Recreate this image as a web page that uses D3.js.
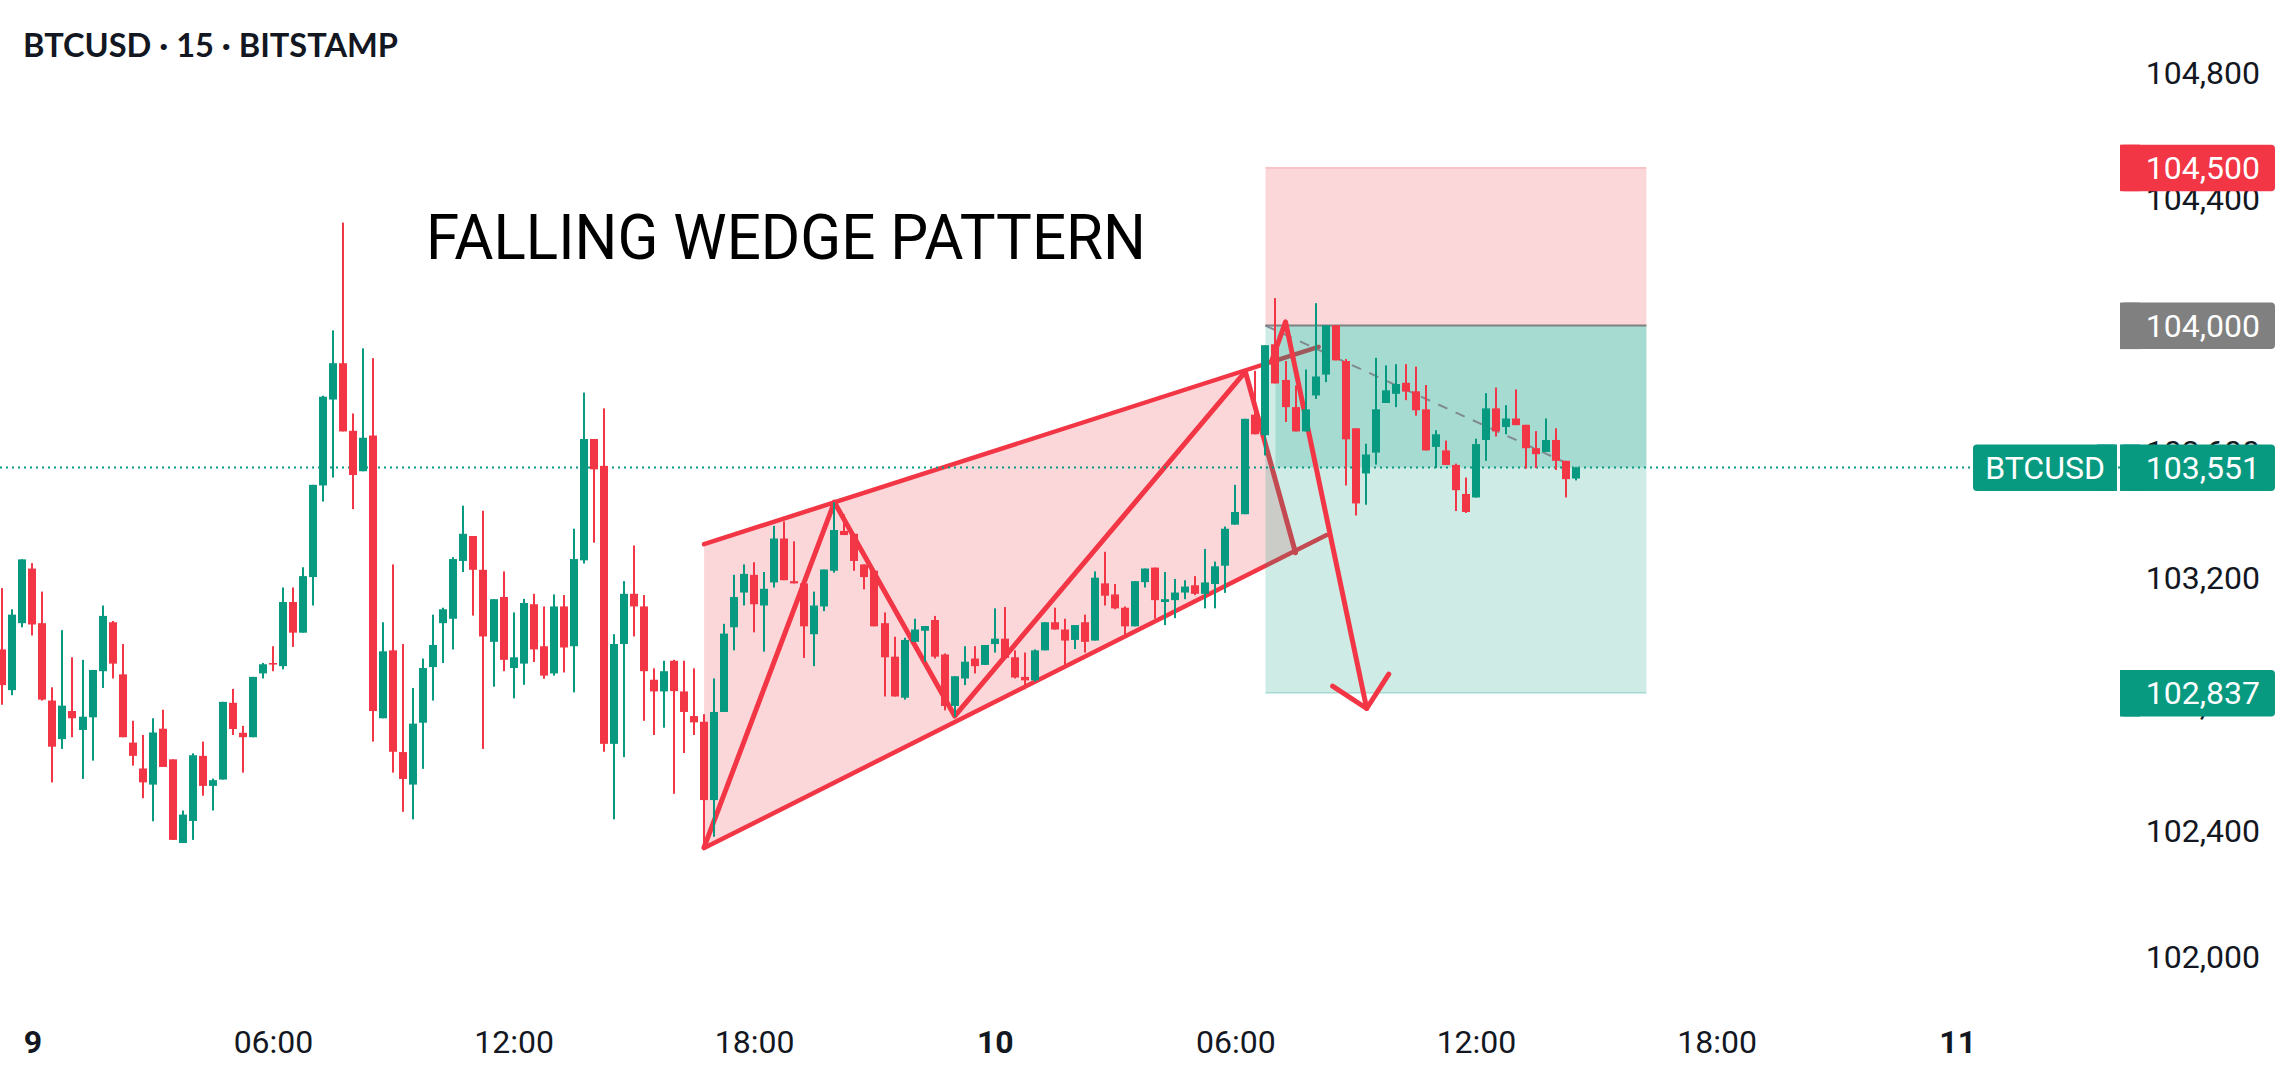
<!DOCTYPE html>
<html>
<head>
<meta charset="utf-8">
<script src="https://cdn.jsdelivr.net/npm/d3@7"></script>
<style>
  html, body { margin: 0; padding: 0; background: #fff; }
  svg { display: block; }
</style>
</head>
<body>
<svg id="chart"></svg>
<script>
// BTCUSD 15m candles, first bar 8th 23:15 UTC
const startTime = Date.UTC(2025, 5, 8, 23, 15);

const opens = [
  102975,102846,103058,103231,103058,102813,102691,102780,102720,102760,
  102906,103061,102896,102680,102598,102547,102724,102627,102362,102432,
  102638,102543,102563,102806,102711,102697,102899,102932,102922,103125,
  103028,103204,103494,103766,103881,103667,103539,103652,102757,102972,
  102650,102547,102743,102919,103058,103072,103255,103334,103227,102999,
  103141,102916,102930,103118,102985,102899,103111,102985,103257,103641,
  103556,102676,102992,103151,103111,102879,102842,102939,102842,102764,
  102746,102498,102777,103045,103155,103211,103114,103187,103326,103191,
  103184,103023,103111,103224,103350,103341,103244,103224,103058,102952,
  102822,102999,103034,103068,102959,102796,102883,102946,102926,102992,
  103009,102950,102888,102877,102972,103061,103038,103005,103061,103003,
  103184,103149,103107,103048,103188,103234,103125,103131,103155,103178,
  103151,103182,103240,103370,103403,103718,103653,103941,103828,103742,
  103665,103779,103845,104001,103888,103675,103532,103598,103755,103784,
  103819,103792,103735,103616,103605,103559,103467,103456,103638,103738,
  103679,103706,103686,103612,103600,103638,103572,103516
];
const highs = [
  103169,103102,103260,103248,103158,102855,103036,102950,102942,102910,
  103114,103065,102992,102749,102704,102757,102784,102627,102465,102646,
  102683,102566,102809,102850,102733,102888,102932,102985,103171,103171,
  103235,103496,103778,103985,104326,103722,103928,103897,103061,103244,
  102992,102853,102946,103085,103107,103267,103430,103334,103414,103134,
  103222,103092,103135,103151,103111,103149,103147,103357,103788,103641,
  103738,103023,103191,103304,103147,102915,102939,102942,102939,102915,
  102770,102883,103056,103211,103244,103251,103220,103366,103380,103317,
  103184,103158,103228,103441,103403,103341,103244,103227,103092,103015,
  103012,103072,103049,103081,102962,102890,102985,102985,102989,103105,
  103109,102972,102965,102975,103061,103107,103072,103052,103085,103222,
  103284,103182,103111,103191,103231,103234,103220,103198,103194,103207,
  103293,103253,103364,103496,103705,103857,103938,104087,103888,103811,
  103861,104071,104001,104001,103894,103675,103626,103898,103874,103878,
  103878,103870,103812,103669,103636,103563,103519,103642,103786,103804,
  103748,103798,103686,103666,103706,103675,103572,103553
];
const lows = [
  102800,102830,103045,103019,102813,102554,102660,102697,102565,102623,
  102853,102883,102697,102607,102504,102431,102603,102372,102362,102372,
  102512,102465,102563,102704,102585,102697,102883,102906,102912,102983,
  103028,103114,103443,103519,103665,103419,103539,102683,102757,102585,
  102461,102437,102597,102813,102932,102975,103220,103082,102660,102857,
  102906,102820,102863,102935,102882,102892,102902,102839,103247,103313,
  102651,102437,102634,103016,102749,102704,102727,102518,102647,102704,
  102348,102382,102777,102972,103114,103029,102968,103171,103194,103184,
  102948,102922,103096,103218,103337,103224,103165,103048,102826,102826,
  102816,102999,102936,102946,102782,102762,102862,102899,102926,102965,
  102946,102883,102849,102873,102972,103038,102926,102976,102965,103003,
  103114,103102,103012,103048,103171,103072,103052,103074,103134,103147,
  103105,103105,103154,103370,103403,103656,103589,103817,103695,103665,
  103665,103768,103821,103890,103494,103399,103433,103560,103755,103742,
  103764,103715,103605,103549,103559,103413,103407,103456,103572,103649,
  103656,103685,103547,103549,103600,103543,103456,103510
];
const closes = [
  102862,103085,103260,103054,102816,102667,102797,102757,102762,102910,
  103081,102930,102697,102638,102554,102712,102603,102372,102452,102640,
  102543,102561,102809,102723,102697,102888,102928,102927,103125,103028,
  103207,103496,103775,103881,103665,103527,103645,102780,102969,102651,
  102565,102740,102916,102989,103102,103261,103341,103227,103016,103134,
  102942,102950,103122,102975,102892,103111,102981,103261,103641,103545,
  102676,102992,103151,103111,102906,102842,102906,102843,102777,102744,
  102498,102777,103025,103141,103214,103118,103167,103326,103194,103184,
  103048,103114,103228,103353,103337,103255,103204,103048,102950,102826,
  103005,103038,103049,102952,102796,102890,102936,102922,102989,103009,
  102948,102886,102877,102972,103061,103038,103003,103052,102999,103202,
  103145,103105,103048,103191,103231,103131,103134,103155,103174,103151,
  103187,103238,103357,103410,103705,103656,103938,103817,103742,103665,
  103735,103839,104001,103890,103640,103437,103592,103735,103795,103815,
  103791,103732,103605,103656,103559,103479,103410,103625,103738,103665,
  103706,103685,103612,103593,103638,103572,103514,103551
];

const priceTicks = [102000, 102400, 102800, 103200, 103600, 104000, 104400, 104800];
const timeTicks = d3.utcHour.every(6).range(new Date(Date.UTC(2025, 5, 9)), new Date(Date.UTC(2025, 5, 11, 0, 1)));

// drawings, as [bar index, price]
const wedgeUpper = [[70, 103308], [131.3, 103933]];
const wedgeLower = [[70, 102346], [132.1, 103337]];
const wedgeArea = [[70, 103308], [124, 103854], [129, 103281], [70, 102346]];
const wedgeZigzag = [[70, 102348], [83, 103441], [95, 102764], [124, 103854], [129, 103281]];
const arrowLine = [[126.6, 103886], [128, 104012], [136.1, 102788]];
const arrowHead = [[132.7, 102859], [136.1, 102788], [138.3, 102897]];

// short position tool
const entryPrice = 104000, stopPrice = 104500, targetPrice = 102837, lastPrice = 103551;
const entryBar = 126, boxEndBar = 164, lastBar = 157;

const titleText = "BTCUSD · 15 · BITSTAMP";
const noteText = "FALLING WEDGE PATTERN";
const symbol = "BTCUSD";

const W = 2288, H = 1078;
const green = "#089981", red = "#f23645";

const svg = d3.select("#chart").attr("width", W).attr("height", H);
svg.append("rect").attr("width", W).attr("height", H).attr("fill", "#fff");

const tAt = i => new Date(startTime + i * 15 * 60 * 1000);
const x = d3.scaleUtc()
  .domain([tAt(0), tAt(opens.length - 1)])
  .range([2.3, 2.3 + 10.025 * (opens.length - 1)]);
const xi = i => x(tAt(i));
const y = d3.scaleLinear().domain([102000, 104800]).range([957.4, 72.9]);

const line = d3.line().x(d => xi(d[0])).y(d => y(d[1]));

// wedge
const wedge = svg.append("g");
wedge.append("path").attr("d", line(wedgeArea) + "Z")
  .attr("fill", "rgba(242,54,69,0.2)");
[wedgeUpper, wedgeLower].forEach(seg => {
  wedge.append("path").attr("d", line(seg))
    .attr("fill", "none").attr("stroke", red).attr("stroke-width", 4.5)
    .attr("stroke-linecap", "round");
});
wedge.append("path").attr("d", line(wedgeZigzag))
  .attr("fill", "none").attr("stroke", red).attr("stroke-width", 5)
  .attr("stroke-linejoin", "round").attr("stroke-linecap", "round");

// position box
const bx0 = xi(entryBar), bx1 = xi(boxEndBar);
const pos = svg.append("g");
pos.append("rect").attr("x", bx0).attr("width", bx1 - bx0)
  .attr("y", y(stopPrice)).attr("height", y(entryPrice) - y(stopPrice))
  .attr("fill", "rgba(242,54,69,0.2)");
pos.append("rect").attr("x", bx0).attr("width", bx1 - bx0)
  .attr("y", y(entryPrice)).attr("height", y(targetPrice) - y(entryPrice))
  .attr("fill", "rgba(8,153,129,0.2)");
pos.append("rect").attr("x", xi(entryBar + 1)).attr("width", bx1 - xi(entryBar + 1))
  .attr("y", y(entryPrice)).attr("height", y(lastPrice) - y(entryPrice))
  .attr("fill", "rgba(8,153,129,0.2)");
pos.append("line").attr("x1", bx0).attr("x2", bx1)
  .attr("y1", y(stopPrice)).attr("y2", y(stopPrice))
  .attr("stroke", "rgba(242,54,69,0.25)").attr("stroke-width", 1.5);
pos.append("line").attr("x1", bx0).attr("x2", bx1)
  .attr("y1", y(targetPrice)).attr("y2", y(targetPrice))
  .attr("stroke", "rgba(8,153,129,0.25)").attr("stroke-width", 1.5);
pos.append("line").attr("x1", bx0).attr("x2", bx1)
  .attr("y1", y(entryPrice)).attr("y2", y(entryPrice))
  .attr("stroke", "#808080").attr("stroke-width", 2);
pos.append("line")
  .attr("x1", bx0).attr("y1", y(entryPrice))
  .attr("x2", xi(lastBar)).attr("y2", y(lastPrice))
  .attr("stroke", "#787b86").attr("stroke-opacity", 0.85)
  .attr("stroke-width", 2).attr("stroke-dasharray", "10,9");

// last price line
svg.append("line").attr("x1", 0).attr("x2", 2120)
  .attr("y1", y(lastPrice)).attr("y2", y(lastPrice))
  .attr("stroke", green).attr("stroke-width", 2).attr("stroke-dasharray", "2,4");

// arrow
svg.append("path").attr("d", line(arrowLine))
  .attr("fill", "none").attr("stroke", red).attr("stroke-width", 5)
  .attr("stroke-linejoin", "round").attr("stroke-linecap", "round");
svg.append("path").attr("d", line(arrowHead))
  .attr("fill", "none").attr("stroke", red).attr("stroke-width", 5)
  .attr("stroke-linejoin", "round").attr("stroke-linecap", "round");

// candles
const bars = opens.map((o, i) => ({ i, o, h: highs[i], l: lows[i], c: closes[i] }));
const candle = svg.append("g").selectAll("g").data(bars).enter().append("g");
candle.append("rect")
  .attr("x", d => Math.round(xi(d.i)) - 1)
  .attr("width", 2)
  .attr("y", d => y(Math.max(d.h, d.o, d.c)))
  .attr("height", d => y(Math.min(d.l, d.o, d.c)) - y(Math.max(d.h, d.o, d.c)))
  .attr("fill", d => d.c >= d.o ? green : red);
candle.append("rect")
  .attr("x", d => Math.round(xi(d.i)) - 4)
  .attr("width", 8)
  .attr("y", d => y(Math.max(d.o, d.c)))
  .attr("height", d => Math.max(1.5, Math.abs(y(d.o) - y(d.c))))
  .attr("fill", d => d.c >= d.o ? green : red);

// texts
svg.append("text").attr("x", 23).attr("y", 57)
  .attr("font-family", "Lato, 'Open Sans', sans-serif").attr("font-weight", 700)
  .attr("font-size", 33).attr("fill", "#131722")
  .attr("textLength", 375).attr("lengthAdjust", "spacingAndGlyphs")
  .text(titleText);

svg.append("text").attr("x", 426).attr("y", 259)
  .attr("font-family", "Roboto, sans-serif").attr("font-size", 63).attr("fill", "#000")
  .attr("textLength", 720).attr("lengthAdjust", "spacingAndGlyphs")
  .text(noteText);

// price axis
const yAxis = svg.append("g").attr("transform", "translate(2260,0)")
  .call(d3.axisLeft(y).tickValues(priceTicks).tickFormat(d3.format(",")).tickSize(0).tickPadding(0));
yAxis.select(".domain").remove();
yAxis.selectAll("text").attr("font-family", "Roboto, sans-serif").attr("font-size", 32)
  .attr("fill", "#131722");

// time axis
const dayFmt = d3.utcFormat("%-d"), hourFmt = d3.utcFormat("%H:%M");
const xAxis = svg.append("g").attr("transform", "translate(0,1030)")
  .call(d3.axisBottom(x).tickValues(timeTicks)
    .tickFormat(d => d.getUTCHours() === 0 ? dayFmt(d) : hourFmt(d))
    .tickSize(0).tickPadding(0));
xAxis.select(".domain").remove();
xAxis.selectAll("text").attr("font-family", "Roboto, sans-serif").attr("font-size", 32)
  .attr("fill", "#131722")
  .attr("font-weight", d => d.getUTCHours() === 0 ? 700 : 400);

// price labels on the axis
const priceLabels = [
  { p: stopPrice, bg: red },
  { p: entryPrice, bg: "#808080" },
  { p: lastPrice, bg: green },
  { p: targetPrice, bg: green }
];
const lab = svg.append("g").selectAll("g").data(priceLabels).enter().append("g")
  .attr("transform", d => `translate(0,${y(d.p)})`);
lab.append("rect").attr("x", 2120).attr("y", -23).attr("width", 155).attr("height", 46.5)
  .attr("rx", 4).attr("fill", d => d.bg);
lab.append("rect").attr("x", 2120).attr("y", -23).attr("width", 20).attr("height", 46.5)
  .attr("fill", d => d.bg);
lab.append("text").attr("x", 2260).attr("y", 11.5).attr("text-anchor", "end")
  .attr("font-family", "Roboto, sans-serif").attr("font-size", 32).attr("fill", "#fff")
  .text(d => d3.format(",")(d.p));

const sym = svg.append("g").attr("transform", `translate(0,${y(lastPrice)})`);
sym.append("rect").attr("x", 1973).attr("y", -23).attr("width", 144).attr("height", 46.5)
  .attr("rx", 4).attr("fill", green);
sym.append("rect").attr("x", 2097).attr("y", -23).attr("width", 20).attr("height", 46.5)
  .attr("fill", green);
sym.append("text").attr("x", 2045).attr("y", 11.5).attr("text-anchor", "middle")
  .attr("font-family", "Roboto, sans-serif").attr("font-size", 32).attr("fill", "#fff")
  .text(symbol);
</script>
</body>
</html>
